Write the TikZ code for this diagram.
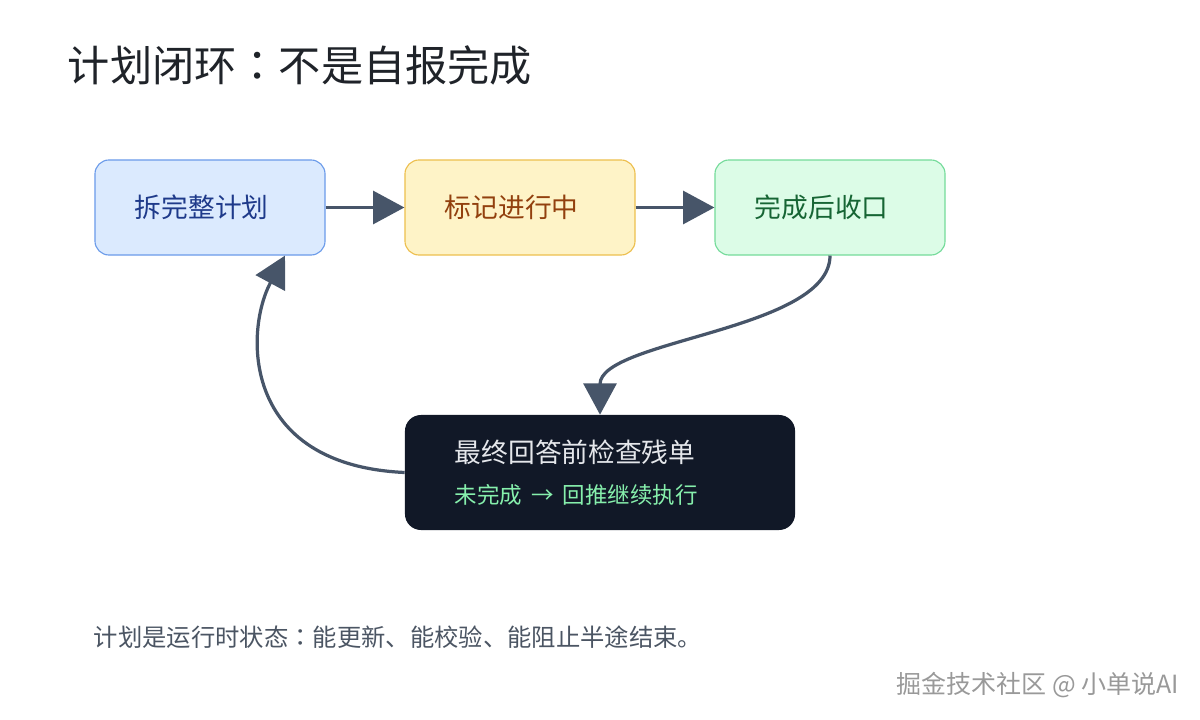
\documentclass[tikz,border=0pt]{standalone}
\usepackage{fontspec}
\setmainfont{Noto Sans CJK SC}
\newfontfamily\tcfont{Noto Sans CJK TC}
\newcommand{\midcolon}{{\tcfont ：}}
\usetikzlibrary{arrows.meta}
\definecolor{titleink}{HTML}{1F2329}
\definecolor{flowgray}{HTML}{475569}
\definecolor{splitfill}{HTML}{DBEAFE}
\definecolor{splitline}{HTML}{6B9BEA}
\definecolor{splittext}{HTML}{1E3A8A}
\definecolor{markfill}{HTML}{FEF3C7}
\definecolor{markline}{HTML}{EDBF4E}
\definecolor{marktext}{HTML}{92400E}
\definecolor{closefill}{HTML}{DCFCE7}
\definecolor{closeline}{HTML}{74DB9A}
\definecolor{closetext}{HTML}{166534}
\definecolor{checkfill}{HTML}{111827}
\definecolor{checktext}{HTML}{E5E7EB}
\definecolor{checkgreen}{HTML}{86EFAC}
\definecolor{noteink}{HTML}{4B5563}

\begin{document}
\begin{tikzpicture}[
        x=0.025cm, y=-0.025cm,
        stepbox/.style={draw, rounded corners=0.35cm, line width=0.8pt,
          minimum height=2.375cm, inner xsep=1cm, text width=3.75cm,
          align=left, font=\fontsize{19}{23}\selectfont},
        flow/.style={draw=flowgray, line width=2.3pt,
          -{Triangle[length=0.78cm, width=0.82cm]}},
      ]
      \useasboundingbox (0,0) rectangle (1200,720);

      % Title
      \node[anchor=west, text=titleink, font=\fontsize{30}{36}\selectfont]
        (title) at (63,65) {计划闭环\midcolon 不是自报完成};

      % Top row of steps
      \node[stepbox, fill=splitfill, draw=splitline, text=splittext]
        (split) at (210,207.5) {拆完整计划};
      \node[stepbox, fill=markfill, draw=markline, text=marktext]
        (mark) at (520,207.5) {标记进行中};
      \node[stepbox, fill=closefill, draw=closeline, text=closetext]
        (close) at (830,207.5) {完成后收口};

      % Check before answering
      \node[fill=checkfill, rounded corners=0.4cm, minimum height=2.875cm,
            inner xsep=1.25cm, text width=7.25cm, align=left,
            text=checktext, font=\fontsize{19}{29}\selectfont]
        (check) at (600,472.5)
        {最终回答前检查残单\\
         {\fontsize{16}{29}\selectfont\color{checkgreen}未完成 → 回推继续执行}};

      % Connectors
      \draw[flow] (split) -- (mark);
      \draw[flow] (mark) -- (close);
      \draw[flow] (close.south) .. controls +(0,75) and +(0,-75) .. (check.north);
      \draw[flow] (check.west) .. controls (240,465) and (245,330)
        .. ([xshift=1.875cm]split.south);

      % Footnote and watermark
      \node[anchor=west, text=noteink, font=\fontsize{17.3}{21}\selectfont]
        (note) at (89,637) {计划是运行时状态\midcolon 能更新、能校验、能阻止半途结束。};
      \node[anchor=east, text=gray!80, font=\fontsize{17.8}{21}\selectfont]
        (brand) at (1184,685) {掘金技术社区 @ 小单说AI};
    \end{tikzpicture}
\end{document}
